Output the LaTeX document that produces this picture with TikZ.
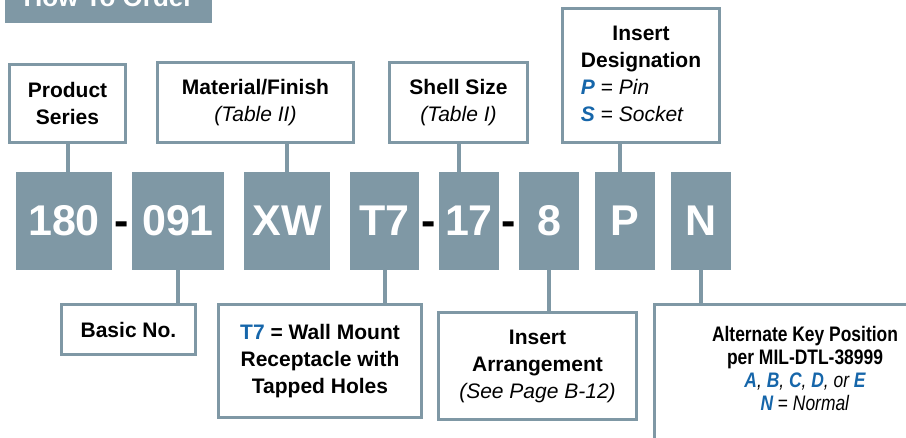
\documentclass[tikz,border=0pt]{standalone}
\usepackage{fontspec}
\setmainfont{Liberation Sans}
\newfontfamily\narrowsans{Liberation Sans}[FakeStretch=0.83]
\usepackage{xcolor}
\usetikzlibrary{positioning,calc}

\newlength{\px}
\setlength{\px}{0.75pt}
\definecolor{slate}{HTML}{7F98A5}
\definecolor{keyblue}{HTML}{1666AA}
\newcommand{\keyl}[1]{\textcolor{keyblue}{\bfseries\itshape #1}}

\begin{document}
\begin{tikzpicture}[
    x=0.75pt, y=-0.75pt,
    node distance=28\px and 20\px,
    code/.style={rectangle, fill=slate, outer sep=0pt, inner sep=0pt, minimum height=98\px, text=white, font=\fontsize{32.25pt}{38pt}\selectfont\bfseries},
    hyph/.style={inner sep=0pt, outer sep=0pt, anchor=base, text=black, font=\fontsize{32.25pt}{38pt}\selectfont\bfseries},
    label/.style={rectangle, draw=slate, line width=3\px, fill=white, align=center, outer sep=0pt, inner sep=0pt, font=\fontsize{15.75pt}{20.25pt}\selectfont\bfseries},
    link/.style={draw=slate, line width=4\px}
]
    \useasboundingbox (0,0) rectangle (906,437);
    \clip (0,0) rectangle (906,437);

    % heading bar, cut off by the top edge
    \node [fill=slate, anchor=south, minimum width=207\px, inner sep=0pt, text height=30\px, text depth=16\px, text=white, font=\fontsize{19.5pt}{23pt}\selectfont\bfseries] (title) at (108.5,23) {How To Order};

    % part number blocks
    \node [code, minimum width=96\px] (c180) at (64,221) {180};
    \node [code, minimum width=92\px, right=of c180] (c091) {091};
    \node [code, minimum width=86\px, right=of c091] (cxw) {XW};
    \node [code, minimum width=69\px, right=of cxw] (ct7) {T7};
    \node [code, minimum width=60\px, right=of ct7] (c17) {17};
    \node [code, minimum width=60\px, right=of c17] (c8) {8};
    \node [code, minimum width=60\px, right=16\px of c8] (cp) {P};
    \node [code, minimum width=60\px, right=16\px of cp] (cn) {N};

    \node [hyph] (h1) at ($(c180.base east)!0.5!(c091.base west)$) {-};
    \node [hyph] (h2) at ($(ct7.base east)!0.5!(c17.base west)$) {-};
    \node [hyph] (h3) at ($(c17.base east)!0.5!(c8.base west)$) {-};

    % callouts above
    \node [label, minimum width=116\px, minimum height=78\px] (ser) at (67.5,103.5) {Product\\Series};
    \node [label, minimum width=196\px, minimum height=80\px] (mat) at (255.5,102.5) {Material/Finish\\{\mdseries\itshape (Table II)}};
    \node [label, minimum width=138\px, minimum height=80\px] (shell) at (458.5,102.5) {Shell Size\\{\mdseries\itshape (Table I)}};
    \node [label, minimum width=157\px, minimum height=134\px] (des) at (641,75.5) {Insert\\Designation\\\rlap{\keyl{P}\mdseries\ = \textit{Pin}}\phantom{Designation}\\\rlap{\keyl{S}\mdseries\ = \textit{Socket}}\phantom{Designation}};

    % callouts below
    \node [label, minimum width=134\px, minimum height=50\px] (basic) at (128.5,329.5) {Basic No.};
    \node [label, minimum width=203\px, minimum height=113\px] (t7note) at (320,361) {\textcolor{keyblue}{T7} = Wall Mount\\Receptacle with\\Tapped Holes};
    \node [label, minimum width=198\px, minimum height=107\px] (arr) at (537.5,366) {Insert\\Arrangement\\{\mdseries\itshape (See Page B-12)}};
    \node [label, anchor=north, minimum width=301\px, text height=105.5\px, text depth=160\px, font=\narrowsans\fontsize{15.75pt}{17.25pt}\selectfont\bfseries] (alt) at (805,304.5) {Alternate Key Position\\per MIL-DTL-38999\\{\mdseries\itshape\keyl{A}, \keyl{B}, \keyl{C}, \keyl{D}, or \keyl{E}}\\{\mdseries\keyl{N} = \textit{Normal}}};

    \draw [link] (ser) -- (ser |- c180.north);
    \draw [link] (cxw) -- (cxw |- mat.south);
    \draw [link] (shell) -- (shell |- c17.north);
    \draw [link] ([xshift=-5\px]cp.north) -- ([xshift=-5\px]cp.north |- des.south);
    \draw [link] (c091) -- (c091 |- basic.north);
    \draw [link] (ct7) -- (ct7 |- t7note.north);
    \draw [link] (c8) -- (c8 |- arr.north);
    \draw [link] (cn) -- (cn |- alt.north);
\end{tikzpicture}
\end{document}
